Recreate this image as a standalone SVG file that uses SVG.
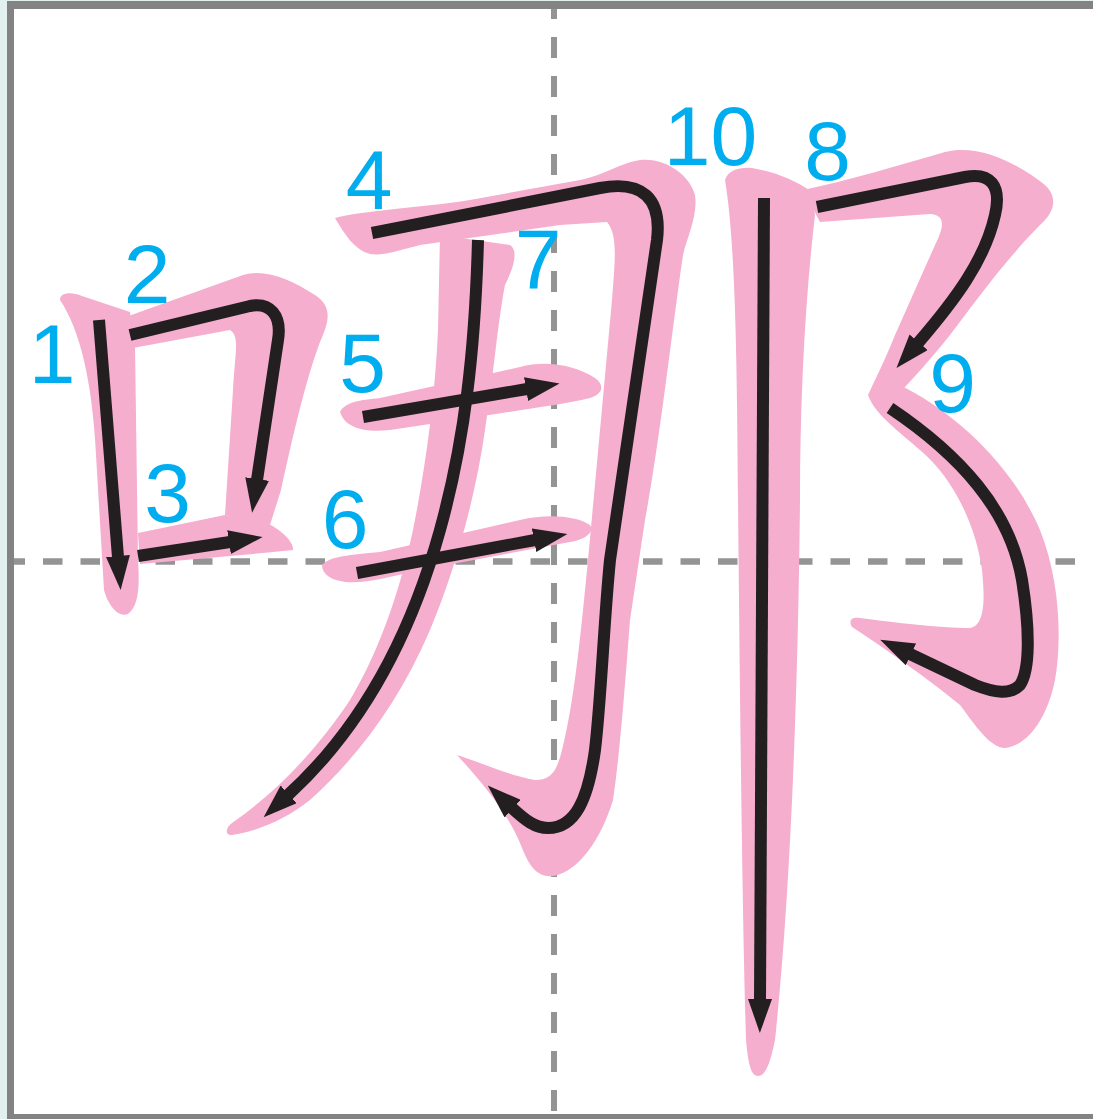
<svg xmlns="http://www.w3.org/2000/svg" width="1093" height="1119" viewBox="0 0 1093 1119">
<style>
.pk{fill:#f6aecf}
.ar{fill:none;stroke:#231f20;stroke-width:12;stroke-linejoin:round;marker-end:url(#ah)}
.dash{fill:none;stroke:#949494}
.num{font-family:"Liberation Sans",Arial,Helvetica,sans-serif;font-size:84px;fill:#00aeef;text-anchor:middle}
</style>
<defs>
<marker id="ah" markerUnits="userSpaceOnUse" markerWidth="34" markerHeight="24" viewBox="0 0 34 24" refX="1" refY="12" orient="auto">
<path d="M0,0 L34,12 L0,24 Z" fill="#231f20"/>
</marker>
</defs>
<g id="frame">
<rect x="0" y="0" width="1093" height="1119" fill="#e2f0ef"/>
<rect x="7" y="1" width="1100" height="1118" fill="#838383"/>
<rect x="14" y="9" width="1090" height="1105" fill="#ffffff"/>
<path class="dash" d="M554,9 V1114" stroke-width="6" stroke-dasharray="21 18" stroke-dashoffset="11"/>
<path class="dash" d="M14,561.5 H1093" stroke-width="6.5" stroke-dasharray="19.5 18" stroke-dashoffset="8.5"/>
</g>
<g id="pink-strokes">
<path id="p1" class="pk" d="M60,300 C60,292 72,292 82,296 L130,312 L135,345 L138,560 C140,590 138,606 128,614 C118,618 108,605 104,590 L96,455 C92,380 80,330 60,300 Z"/>
<path id="p2" class="pk" d="M123,318 L243,275 C265,268 292,280 315,295 C332,306 330,320 320,342 C305,382 292,440 281,490 L270,525 L225,515 L233,390 C235,352 240,336 230,330 L133,348 Z"/>
<path id="p3" class="pk" d="M138,533 L225,515 L263,521 C280,529 293,540 293,550 L263,553 L140,564 Z"/>
<path id="p4" class="pk" d="M335,218 C365,210 420,208 470,200 L580,180 C605,175 620,163 640,160 C665,157 690,175 695,195 C698,215 688,235 683,255 C672,330 660,440 645,520 L630,620 C624,700 619,760 613,800 C601,840 578,872 553,876 C535,878 528,862 522,848 C510,815 480,780 457,755 C480,762 510,776 535,780 C552,780 557,770 562,750 C575,700 582,620 588,560 L612,300 C615,260 618,235 607,222 L560,225 L420,245 C400,250 385,256 370,254 C355,250 345,235 335,218 Z"/>
<path id="p5" class="pk" d="M340,412 C345,402 360,400 380,398 L520,367 C545,360 575,365 595,378 C605,385 603,394 590,398 C560,405 520,410 470,418 L390,430 C365,433 345,428 340,412 Z"/>
<path id="p6" class="pk" d="M322,565 C330,556 350,555 380,552 L520,520 C545,514 575,515 590,525 C595,532 585,540 570,542 L420,570 C390,577 365,584 345,582 C332,580 322,575 322,565 Z"/>
<path id="p7" class="pk" d="M440,235 L510,245 C518,250 515,265 505,285 C498,320 493,380 485,430 C475,500 455,570 430,630 C400,700 360,755 310,800 C285,820 255,832 232,835 C225,836 225,828 232,823 C280,790 320,745 350,700 C380,650 400,590 413,530 C425,470 435,400 438,330 L440,235 Z"/>
<path id="p8" class="pk" d="M803,190 C850,180 900,165 945,152 C980,143 1020,165 1045,185 C1058,197 1055,212 1040,225 C1010,255 980,295 950,335 C930,360 912,380 900,392 L868,395 C875,380 885,360 895,335 L935,245 C945,225 945,215 930,214 L820,222 Z"/>
<path id="p9" class="pk" d="M868,395 L900,385 C950,410 1010,460 1040,530 C1060,580 1062,640 1055,680 C1048,715 1030,745 1005,748 C990,748 975,725 960,705 C930,680 880,645 852,627 C848,620 852,617 860,618 C890,622 940,628 970,628 C985,625 985,600 982,570 C975,520 950,475 920,450 C900,432 875,415 868,395 Z"/>
<path id="p10" class="pk" d="M725,180 C728,170 740,167 752,168 C775,172 795,180 812,192 L815,215 C805,300 800,400 800,500 C798,700 790,900 775,1040 C770,1065 765,1076 758,1076 C750,1076 748,1060 746,1040 C742,900 740,700 738,500 C737,350 735,240 725,180 Z"/>
</g>
<g id="arrows">
<path id="a1" class="ar" d="M99,320 L118,557"/>
<path id="a2" class="ar" d="M130,335 L250,306 C270,302 282,315 278,340 L257,480"/>
<path id="a3" class="ar" d="M138,556 L230,542"/>
<path id="a4" class="ar" d="M372,233 L600,188 C642,180 662,198 657,240 L610,560 C604,620 601,700 595,750 C588,800 575,828 548,828 C535,828 525,820 512,808"/>
<path id="a5" class="ar" d="M363,417 L527,389"/>
<path id="a6" class="ar" d="M357,573 L535,540"/>
<path id="a7" class="ar" d="M478,240 C475,350 465,440 440,530 C415,620 370,720 288,795"/>
<path id="a8" class="ar" d="M817,207 L965,177 C990,172 1002,185 995,215 C985,260 955,300 918,343"/>
<path id="a9" class="ar" d="M890,408 C960,455 1010,510 1022,580 C1030,630 1030,670 1020,685 C1010,695 995,693 975,685 L910,654"/>
<path id="a10" class="ar" d="M764,198 L760,1000"/>
</g>
<g id="labels">
<text class="num" x="52" y="383">1</text>
<text class="num" x="147" y="303">2</text>
<text class="num" x="167.5" y="522">3</text>
<text class="num" x="369" y="209">4</text>
<text class="num" x="362.5" y="392">5</text>
<text class="num" x="345" y="548">6</text>
<text class="num" x="538" y="288">7</text>
<text class="num" x="827.5" y="180">8</text>
<text class="num" x="952.5" y="412">9</text>
<text class="num" x="710.5" y="165">10</text>
</g>
</svg>
